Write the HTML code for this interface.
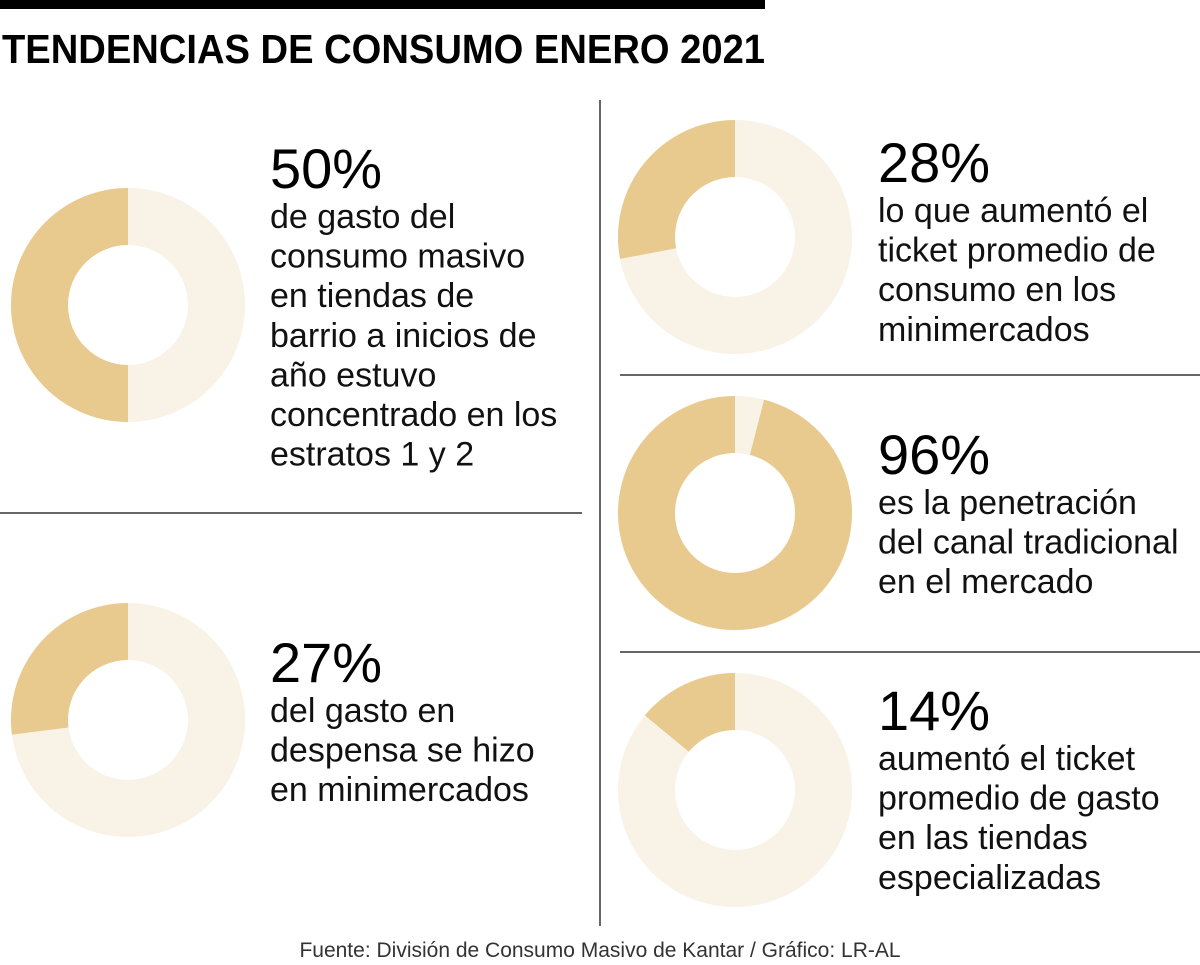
<!DOCTYPE html>
<html><head><meta charset="utf-8"><style>
body{margin:0;background:#fff;width:1200px;height:965px;overflow:hidden}
svg{display:block;font-family:"Liberation Sans",sans-serif}
</style></head><body>
<svg id="chart" width="1200" height="965" viewBox="0 0 1200 965">
<rect x="0" y="0" width="765" height="9" fill="#000"/>
<text x="2" y="63" font-size="41" font-weight="bold" textLength="763" lengthAdjust="spacingAndGlyphs" fill="#000">TENDENCIAS DE CONSUMO ENERO 2021</text>
<line x1="600" y1="100" x2="600" y2="926" stroke="#333" stroke-width="1.5"/>
<line x1="0" y1="513" x2="582" y2="513" stroke="#333" stroke-width="1.5"/>
<line x1="620" y1="375" x2="1200" y2="375" stroke="#333" stroke-width="1.5"/>
<line x1="620" y1="652" x2="1200" y2="652" stroke="#333" stroke-width="1.5"/>
<g id="donuts"></g>
<g id="texts"></g>
<text x="600" y="957" font-size="21" fill="#333" text-anchor="middle">Fuente: División de Consumo Masivo de Kantar / Gráfico: LR-AL</text>
</svg>
<script>
const values = [50, 27, 28, 96, 14];
const labels = ["50%", "27%", "28%", "96%", "14%"];
const names = ["stat-50", "stat-27", "stat-28", "stat-96", "stat-14"];
const descriptions = [
 ["de gasto del","consumo masivo","en tiendas de","barrio a inicios de","año estuvo","concentrado en los","estratos 1 y 2"],
 ["del gasto en","despensa se hizo","en minimercados"],
 ["lo que aumentó el","ticket promedio de","consumo en los","minimercados"],
 ["es la penetración","del canal tradicional","en el mercado"],
 ["aumentó el ticket","promedio de gasto","en las tiendas","especializadas"]
];
const layout = [
 {cx:128,cy:305,tx:270,ty:188},
 {cx:128,cy:720,tx:270,ty:682},
 {cx:735,cy:237,tx:878,ty:182},
 {cx:735,cy:513,tx:878,ty:474},
 {cx:735,cy:790,tx:878,ty:730}
];
const NS="http://www.w3.org/2000/svg";
const R=117, r=60;
function pt(cx,cy,rad,frac){const a=-Math.PI/2-frac*2*Math.PI;return [cx+rad*Math.cos(a),cy+rad*Math.sin(a)];}
const dg=document.getElementById('donuts'), tg=document.getElementById('texts');
values.forEach((v,i)=>{
 const L=layout[i];
 const bg=document.createElementNS(NS,'circle');
 bg.setAttribute('cx',L.cx);bg.setAttribute('cy',L.cy);bg.setAttribute('r',(R+r)/2);
 bg.setAttribute('fill','none');bg.setAttribute('stroke','#f8f2e7');bg.setAttribute('stroke-width',R-r);
 
 
 dg.appendChild(bg);
 const f=v/100;
 const [x1,y1]=pt(L.cx,L.cy,R,0),[x2,y2]=pt(L.cx,L.cy,R,f),[x3,y3]=pt(L.cx,L.cy,r,f),[x4,y4]=pt(L.cx,L.cy,r,0);
 const large=f>0.5?1:0;
 const p=document.createElementNS(NS,'path');
 p.setAttribute('d',`M${x1},${y1} A${R},${R} 0 ${large} 0 ${x2},${y2} L${x3},${y3} A${r},${r} 0 ${large} 1 ${x4},${y4} Z`);
 p.setAttribute('fill','#e8ca8e');
 
 
 dg.appendChild(p);
 const t=document.createElementNS(NS,'text');
 t.setAttribute('x',L.tx);t.setAttribute('y',L.ty);t.setAttribute('font-size','56');t.setAttribute('fill','#000');
 t.textContent=labels[i];
 
 
 tg.appendChild(t);
 descriptions[i].forEach((line,j)=>{
  const d=document.createElementNS(NS,'text');
  d.setAttribute('x',L.tx);d.setAttribute('y',L.ty+40+j*39.6);d.setAttribute('font-size','34');d.setAttribute('fill','#111');
  d.textContent=line;
  
  
  tg.appendChild(d);
 });
});
</script>
</body></html>
